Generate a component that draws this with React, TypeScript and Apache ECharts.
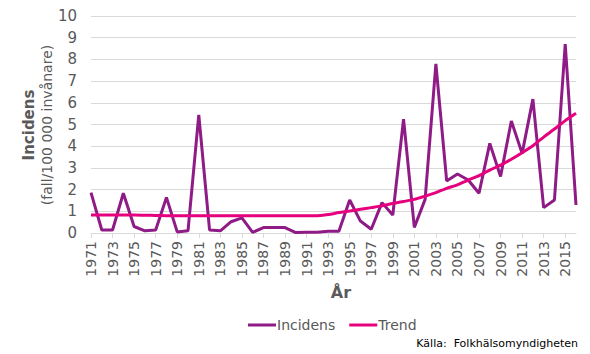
import React, { useEffect, useRef } from "react";
import * as echarts from "echarts";

const years: string[] = [
  "1971","1972","1973","1974","1975","1976","1977","1978","1979","1980",
  "1981","1982","1983","1984","1985","1986","1987","1988","1989","1990",
  "1991","1992","1993","1994","1995","1996","1997","1998","1999","2000",
  "2001","2002","2003","2004","2005","2006","2007","2008","2009","2010",
  "2011","2012","2013","2014","2015","2016",
];

const incidens: number[] = [
  1.86, 0.14, 0.14, 1.83, 0.3, 0.1, 0.14, 1.64, 0.05, 0.1,
  5.44, 0.14, 0.1, 0.52, 0.7, 0.03, 0.25, 0.25, 0.25, 0.02,
  0.03, 0.03, 0.08, 0.08, 1.52, 0.55, 0.17, 1.4, 0.83, 5.25,
  0.26, 1.55, 7.79, 2.4, 2.72, 2.44, 1.83, 4.13, 2.6, 5.16,
  3.67, 6.17, 1.17, 1.52, 8.71, 1.29,
];

const trend: number[] = [
  0.83, 0.83, 0.83, 0.83, 0.83, 0.82, 0.81, 0.8, 0.79, 0.79,
  0.79, 0.79, 0.79, 0.79, 0.79, 0.79, 0.79, 0.79, 0.79, 0.79,
  0.79, 0.8, 0.85, 0.94, 1.01, 1.09, 1.17, 1.25, 1.36, 1.45,
  1.55, 1.7, 1.86, 2.06, 2.22, 2.44, 2.64, 2.9, 3.13, 3.4,
  3.7, 4.02, 4.42, 4.79, 5.18, 5.52,
];

const yTicks = { min: 0, max: 10, interval: 1 };

export default function App() {
  const ref = useRef<HTMLDivElement>(null);
  useEffect(() => {
    if (!ref.current) return;
    const chart = echarts.init(ref.current, undefined, { renderer: "svg" });
    const font = "'DejaVu Sans', Verdana, sans-serif";
    chart.setOption({
      animation: false,
      backgroundColor: "#ffffff",
      grid: { left: 91, right: 14, top: 16, bottom: 121 },
      xAxis: {
        type: "category",
        data: years,
        boundaryGap: false,
        axisLine: { lineStyle: { color: "#D9D9D9", width: 1 } },
        axisTick: { interval: 1, length: 5, lineStyle: { color: "#D9D9D9" } },
        axisLabel: {
          interval: 1,
          rotate: 90,
          color: "#595959",
          fontFamily: font,
          fontSize: 14,
          margin: 8,
        },
        splitLine: { show: false },
      },
      yAxis: {
        type: "value",
        min: yTicks.min,
        max: yTicks.max,
        interval: yTicks.interval,
        axisLine: { show: false },
        axisTick: { show: false },
        axisLabel: { color: "#595959", fontFamily: font, fontSize: 15, margin: 14 },
        splitLine: { lineStyle: { color: "#D9D9D9", width: 1 } },
      },
      legend: {
        top: 313,
        left: 243,
        itemGap: 14,
        itemWidth: 28,
        itemHeight: 3,
        icon: "rect",
        textStyle: { color: "#595959", fontFamily: font, fontSize: 14, padding: [0, 0, 0, -4] },
        data: ["Incidens", "Trend"],
      },
      series: [
        {
          name: "Incidens",
          type: "line",
          data: incidens,
          symbol: "none",
          lineStyle: { color: "#8E1B86", width: 3 },
          itemStyle: { color: "#8E1B86" },
        },
        {
          name: "Trend",
          type: "line",
          data: trend,
          symbol: "none",
          smooth: 0.2,
          lineStyle: { color: "#E6007E", width: 3 },
          itemStyle: { color: "#E6007E" },
        },
      ],
      graphic: [
        {
          type: "text",
          x: 29,
          y: 125,
          rotation: Math.PI / 2,
          style: {
            text: "Incidens",
            font: `bold 15px ${font}`,
            fill: "#595959",
            align: "center",
            verticalAlign: "middle",
          },
        },
        {
          type: "text",
          x: 47,
          y: 125,
          rotation: Math.PI / 2,
          style: {
            text: "(fall/100 000 invånare)",
            font: `14px ${font}`,
            fill: "#595959",
            align: "center",
            verticalAlign: "middle",
          },
        },
        {
          type: "text",
          x: 341,
          y: 292,
          style: {
            text: "År",
            font: `bold 16px ${font}`,
            fill: "#595959",
            align: "center",
            verticalAlign: "middle",
          },
        },
        {
          type: "text",
          x: 578,
          y: 343,
          style: {
            text: "Källa:  Folkhälsomyndigheten",
            font: `11px ${font}`,
            fill: "#000000",
            align: "right",
            verticalAlign: "middle",
          },
        },
      ],
    });
    return () => chart.dispose();
  }, []);
  return (
    <div
      ref={ref}
      style={{ position: "absolute", left: 0, top: 0, width: 590, height: 354 }}
    />
  );
}
